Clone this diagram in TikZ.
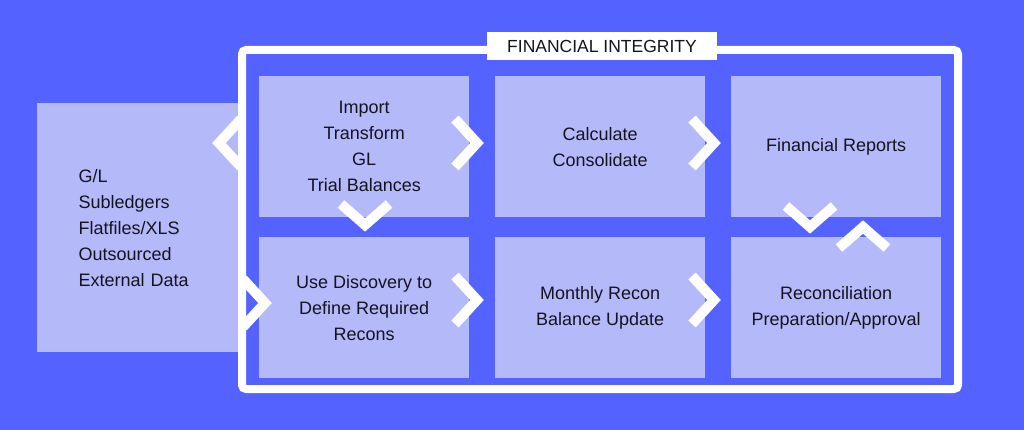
\documentclass[tikz,border=0pt]{standalone}
\usepackage{fontspec}
\setmainfont{Liberation Sans}
\usetikzlibrary{calc}
\definecolor{bg}{RGB}{84,99,255}
\definecolor{lav}{RGB}{180,185,250}
\definecolor{ink}{RGB}{20,20,30}
\begin{document}
\begin{tikzpicture}[x=1pt,y=-1pt,
  box/.style={fill=lav,draw=none,inner sep=0pt,minimum width=210pt,minimum height=141pt,anchor=north west,text=ink,align=center,font=\fontsize{18}{26}\selectfont},
  chev/.style={draw=white,line width=10pt,miter limit=10}]
\fill[bg] (0,0) rectangle (1024,430);
\useasboundingbox (0,0) rectangle (1024,430);
\node[box,minimum width=201pt,minimum height=249pt,align=left,text width=180pt] (src) at (37,103) {\hspace*{31pt}G/L\\\hspace*{31pt}Subledgers\\\hspace*{31pt}Flatfiles/XLS\\\hspace*{31pt}Outsourced\\\hspace*{31pt}External Data};
\draw[white,line width=8pt,rounded corners=4pt] (242,50) rectangle (958,389);
\node[fill=white,inner sep=0pt,minimum width=230pt,minimum height=28pt,font=\fontsize{17.5}{18}\selectfont,text=ink] (title) at (602,46) {FINANCIAL INTEGRITY};
\node[box] (imp) at (259,76) {Import\\Transform\\GL\\Trial Balances};
\node[box] (calc) at (495,76) {Calculate\\Consolidate};
\node[box] (fin) at (731,76) {Financial Reports};
\node[box] (disc) at (259,237) {Use Discovery to\\Define Required\\Recons};
\node[box] (mon) at (495,237) {Monthly Recon\\Balance Update};
\node[box] (rec) at (731,237) {Reconciliation\\Preparation/Approval};
% chevrons
\coordinate (c1) at (219,143);
\draw[chev] ($(c1)+(22,-24)$) -- (c1) -- ($(c1)+(22,24)$);
\draw[chev] (455,119) -- (477,143) -- (455,167);
\draw[chev] (692,119) -- (714,143) -- (692,167);
\draw[chev] (243,279) -- (265,303) -- (243,327);
\draw[chev] (455,276) -- (477,300) -- (455,324);
\draw[chev] (692,276) -- (714,300) -- (692,324);
\draw[chev] (341,204) -- (365,225) -- (389,204);
\draw[chev] (786,206) -- (810,227) -- (834,206);
\draw[chev] (839,248) -- (863,227) -- (887,248);
\end{tikzpicture}
\end{document}
